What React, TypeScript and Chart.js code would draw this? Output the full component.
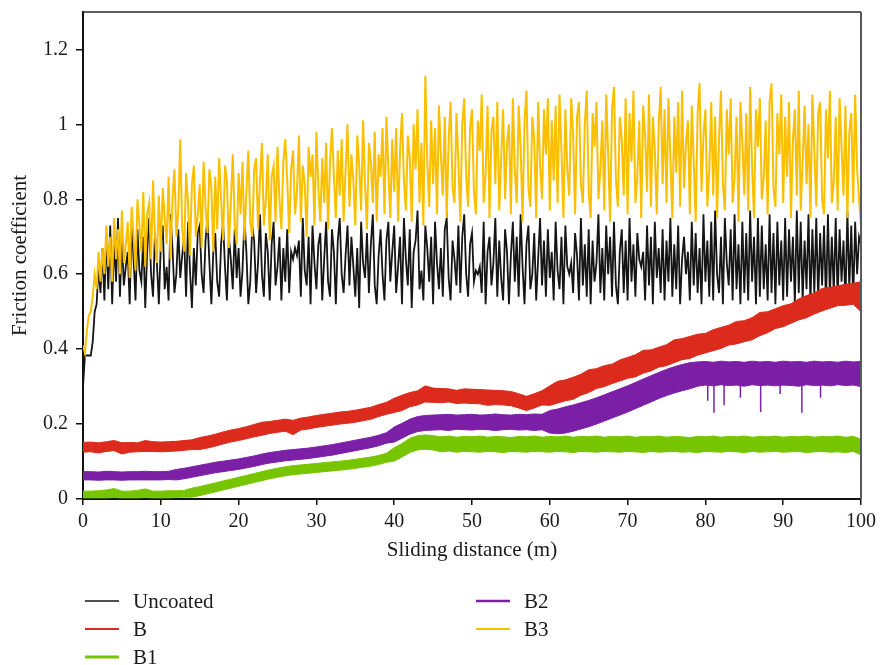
import React, { useEffect, useRef } from "react";
import { Chart, registerables } from "chart.js";

Chart.register(...registerables);

// ---------- data ----------
const distanceStep = 0.25; // m between samples of the Uncoated / B3 traces

const uncoated = [
  0.30,0.383,0.383,0.383,0.383,0.42,0.50,0.52,0.62,0.55,0.67,0.53,0.71,0.56,0.73,0.52,0.69,0.58,0.75,0.54,
  0.70,0.57,0.62,0.66,0.52,0.74,0.64,0.53,0.72,0.61,0.58,0.70,0.51,0.66,0.75,0.60,0.54,0.71,0.63,0.52,
  0.68,0.73,0.56,0.62,0.53,0.76,0.67,0.55,0.60,0.72,0.59,0.65,0.70,0.54,0.74,0.61,0.51,0.67,0.57,0.71,
  0.73,0.60,0.55,0.69,0.75,0.63,0.52,0.66,0.71,0.58,0.54,0.68,0.74,0.62,0.53,0.70,0.64,0.56,0.72,0.59,
  0.67,0.54,0.61,0.75,0.66,0.52,0.58,0.73,0.69,0.55,0.63,0.76,0.60,0.54,0.71,0.66,0.53,0.68,0.74,0.57,
  0.62,0.70,0.53,0.67,0.58,0.72,0.55,0.66,0.64,0.67,0.65,0.69,0.54,0.75,0.61,0.57,0.70,0.52,0.73,0.63,
  0.56,0.68,0.71,0.53,0.64,0.74,0.58,0.54,0.72,0.66,0.52,0.69,0.75,0.60,0.55,0.65,0.73,0.57,0.70,0.62,
  0.54,0.67,0.51,0.74,0.63,0.59,0.71,0.55,0.68,0.76,0.57,0.52,0.65,0.72,0.60,0.53,0.69,0.74,0.58,0.66,
  0.73,0.55,0.62,0.70,0.52,0.75,0.64,0.57,0.72,0.51,0.66,0.69,0.77,0.56,0.61,0.53,0.73,0.67,0.58,0.70,
  0.52,0.74,0.63,0.56,0.67,0.54,0.72,0.75,0.59,0.53,0.69,0.64,0.57,0.73,0.55,0.70,0.76,0.60,0.54,0.68,
  0.71,0.58,0.61,0.60,0.62,0.55,0.74,0.52,0.66,0.70,0.57,0.63,0.75,0.54,0.69,0.59,0.53,0.72,0.66,0.52,
  0.65,0.74,0.58,0.70,0.54,0.76,0.62,0.52,0.68,0.73,0.56,0.60,0.71,0.53,0.64,0.75,0.57,0.69,0.54,0.72,
  0.59,0.66,0.53,0.74,0.61,0.56,0.70,0.52,0.73,0.62,0.60,0.63,0.55,0.71,0.65,0.53,0.75,0.57,0.68,0.54,
  0.72,0.52,0.69,0.58,0.63,0.76,0.55,0.67,0.53,0.73,0.60,0.70,0.54,0.74,0.57,0.52,0.66,0.72,0.55,0.69,
  0.53,0.75,0.58,0.68,0.54,0.71,0.64,0.62,0.66,0.53,0.73,0.57,0.70,0.52,0.74,0.59,0.67,0.55,0.72,0.53,
  0.69,0.58,0.75,0.54,0.68,0.56,0.73,0.52,0.64,0.70,0.60,0.66,0.53,0.74,0.57,0.71,0.55,0.67,0.52,0.76,
  0.58,0.69,0.54,0.74,0.53,0.77,0.60,0.55,0.70,0.52,0.75,0.63,0.57,0.72,0.53,0.76,0.56,0.68,0.52,0.74,
  0.55,0.71,0.53,0.77,0.58,0.70,0.52,0.75,0.54,0.73,0.56,0.68,0.53,0.76,0.55,0.71,0.52,0.74,0.57,0.69,
  0.53,0.75,0.54,0.72,0.58,0.70,0.52,0.77,0.55,0.74,0.53,0.69,0.56,0.76,0.52,0.72,0.55,0.75,0.53,0.71,
  0.57,0.73,0.52,0.76,0.54,0.70,0.55,0.75,0.53,0.72,0.58,0.69,0.52,0.77,0.56,0.73,0.53,0.74,0.60,0.70,0.68,
];

const b3 = [
  0.41,0.39,0.45,0.49,0.50,0.54,0.60,0.56,0.66,0.58,0.67,0.60,0.73,0.62,0.70,0.58,0.75,0.64,0.72,0.60,
  0.77,0.63,0.68,0.74,0.59,0.78,0.70,0.61,0.80,0.73,0.66,0.82,0.62,0.76,0.79,0.64,0.85,0.70,0.63,0.81,
  0.66,0.83,0.75,0.68,0.86,0.64,0.80,0.88,0.70,0.77,0.96,0.72,0.66,0.87,0.79,0.65,0.84,0.89,0.70,0.76,
  0.84,0.67,0.90,0.78,0.71,0.88,0.83,0.66,0.86,0.72,0.91,0.80,0.69,0.89,0.85,0.67,0.79,0.92,0.73,0.68,
  0.87,0.76,0.90,0.69,0.82,0.93,0.74,0.70,0.88,0.91,0.72,0.85,0.95,0.73,0.80,0.92,0.69,0.86,0.89,0.74,
  0.94,0.80,0.72,0.90,0.96,0.85,0.71,0.88,0.93,0.76,0.82,0.97,0.74,0.89,0.84,0.70,0.94,0.86,0.92,0.73,
  0.98,0.83,0.74,0.91,0.79,0.95,0.72,0.90,0.99,0.86,0.75,0.93,0.81,0.96,0.74,0.88,1.00,0.78,0.92,0.85,
  0.73,0.97,0.89,0.77,1.01,0.84,0.72,0.95,0.90,0.79,0.98,0.74,0.92,0.86,0.99,0.76,1.02,0.88,0.75,0.96,
  0.82,0.99,0.74,0.93,1.03,0.85,0.77,0.97,0.91,0.74,1.00,0.88,1.04,0.79,0.95,0.73,1.13,0.90,0.78,1.01,
  0.84,0.99,0.76,1.05,0.92,0.81,1.02,0.75,0.96,1.06,0.83,0.79,1.03,0.90,0.74,1.00,1.07,0.86,0.78,0.99,
  1.04,0.82,0.76,1.01,0.93,1.08,0.79,0.87,1.05,0.75,0.98,1.02,0.84,1.06,0.77,0.91,1.04,0.80,0.95,1.00,
  0.76,1.07,0.88,0.79,1.05,0.94,0.74,1.01,1.09,0.83,0.78,1.02,0.96,0.75,1.06,0.89,0.80,1.04,0.92,1.07,
  0.77,1.01,0.85,1.05,0.79,1.08,0.93,0.75,1.04,0.88,0.81,1.07,0.97,0.76,1.02,1.06,0.84,0.79,1.00,1.09,
  0.82,0.75,1.03,0.94,1.06,0.80,0.88,1.01,0.77,1.08,0.92,0.74,1.04,1.10,0.85,0.78,1.02,0.96,0.81,1.07,
  0.76,1.03,0.90,1.09,0.79,0.86,1.01,0.75,1.05,0.97,0.82,1.08,0.78,1.02,0.93,0.76,1.00,1.10,0.84,1.04,
  0.79,1.07,0.91,0.75,1.02,0.87,1.06,0.78,1.09,0.83,0.95,1.01,0.76,1.05,0.90,0.74,1.03,1.11,0.82,0.97,
  1.04,0.78,0.88,1.06,0.81,1.02,0.75,0.96,1.09,0.84,0.77,1.04,0.92,1.07,0.79,0.86,1.02,0.74,1.06,0.95,
  0.81,1.03,0.77,1.10,0.89,0.75,1.04,0.94,1.07,0.80,0.86,1.01,0.76,1.06,1.11,0.83,0.78,1.03,0.92,1.08,
  0.79,1.02,0.86,1.06,0.75,0.96,1.04,0.81,1.09,0.77,0.90,1.05,0.84,1.00,0.75,1.08,0.93,0.78,1.03,1.06,
  0.80,0.76,1.04,0.91,1.09,0.79,0.85,1.02,0.77,1.07,0.94,0.81,1.05,0.75,0.98,1.03,0.79,1.08,0.88,0.80,0.73,
];

// band series (noisy traces drawn as their lower / upper envelope), sampled every 1 m
const bandDistance = [
  0,1,2,3,4,5,6,7,8,9,10,11,12,13,14,15,16,17,18,19,20,21,22,23,24,25,26,27,28,29,
  30,31,32,33,34,35,36,37,38,39,40,41,42,43,44,45,46,47,48,49,50,51,52,53,54,55,56,57,58,59,
  60,61,62,63,64,65,66,67,68,69,70,71,72,73,74,75,76,77,78,79,80,81,82,83,84,85,86,87,88,89,
  90,91,92,93,94,95,96,97,98,99,100,
];

const bLow = [
  .125,.126,.123,.127,.129,.120,.125,.126,.127,.127,
  .126,.127,.128,.130,.132,.132,.136,.141,.147,.152,
  .156,.161,.166,.170,.175,.178,.181,.172,.184,.187,
  .191,.194,.197,.200,.202,.205,.209,.213,.220,.226,
  .231,.236,.246,.251,.259,.258,.257,.259,.255,.256,
  .255,.254,.250,.252,.251,.249,.243,.236,.243,.251,
  .250,.256,.262,.266,.277,.284,.295,.300,.308,.315,
  .322,.326,.336,.342,.352,.356,.364,.372,.375,.384,
  .390,.396,.402,.411,.414,.420,.425,.436,.444,.455,
  .460,.469,.478,.484,.494,.502,.509,.516,.517,.520,.500,
];
const bHigh = [
  .151,.152,.150,.153,.156,.150,.151,.150,.156,.153,
  .152,.153,.154,.156,.158,.164,.168,.173,.179,.184,
  .188,.193,.199,.205,.207,.210,.213,.210,.216,.219,
  .223,.226,.229,.232,.234,.237,.241,.245,.252,.258,
  .269,.277,.284,.289,.302,.296,.295,.294,.290,.294,
  .293,.292,.291,.290,.289,.287,.281,.274,.281,.289,
  .302,.314,.318,.325,.333,.345,.348,.356,.360,.371,
  .378,.385,.397,.398,.405,.412,.425,.428,.434,.440,
  .442,.452,.458,.464,.474,.476,.484,.498,.500,.508,
  .516,.521,.534,.543,.550,.562,.565,.569,.573,.576,.580,
];

const b1Low = [
  .003,.003,.003,.003,.004,.003,.003,.003,.004,.003,
  .003,.003,.004,.005,.005,.009,.014,.019,.024,.029,
  .034,.039,.044,.049,.054,.058,.062,.065,.067,.069,
  .071,.073,.075,.077,.079,.082,.085,.088,.092,.098,
  .101,.112,.124,.131,.133,.131,.126,.128,.125,.127,
  .126,.125,.127,.126,.124,.127,.126,.125,.127,.126,
  .125,.127,.126,.124,.127,.126,.125,.127,.126,.125,
  .127,.126,.124,.127,.125,.126,.127,.125,.126,.124,
  .127,.126,.125,.127,.126,.124,.127,.125,.126,.127,
  .125,.126,.127,.124,.126,.127,.125,.126,.124,.127,.118,
];
const b1High = [
  .021,.021,.022,.024,.028,.021,.021,.023,.027,.021,
  .021,.022,.022,.023,.029,.033,.038,.043,.048,.053,
  .058,.063,.068,.073,.078,.082,.086,.089,.091,.093,
  .095,.097,.099,.101,.103,.106,.109,.112,.116,.122,
  .137,.148,.162,.169,.171,.169,.166,.168,.165,.167,
  .166,.168,.165,.167,.166,.164,.167,.166,.168,.165,
  .167,.166,.168,.165,.167,.166,.168,.165,.167,.166,
  .168,.165,.167,.166,.168,.165,.167,.166,.164,.167,
  .166,.168,.165,.167,.166,.168,.165,.167,.166,.168,
  .165,.167,.166,.168,.165,.167,.166,.168,.165,.167,.160,
];

const b2Low = [
  .051,.051,.050,.051,.051,.050,.051,.051,.051,.051,
  .051,.052,.051,.054,.058,.062,.066,.070,.073,.076,
  .079,.083,.087,.092,.096,.099,.102,.104,.106,.108,
  .111,.114,.117,.121,.125,.129,.133,.137,.142,.149,
  .152,.162,.173,.180,.183,.184,.185,.183,.186,.185,
  .184,.186,.185,.183,.185,.186,.184,.185,.183,.185,
  .176,.174,.176,.181,.187,.193,.200,.208,.216,.224,
  .232,.241,.250,.259,.268,.276,.283,.289,.294,.301,
  .304,.302,.305,.303,.304,.301,.305,.303,.304,.302,
  .304,.303,.301,.305,.303,.304,.302,.305,.303,.304,.300,
];
const b2High = [
  .073,.073,.072,.074,.073,.072,.073,.073,.074,.073,
  .073,.074,.079,.082,.086,.090,.094,.098,.101,.104,
  .107,.111,.115,.120,.124,.127,.130,.132,.134,.136,
  .139,.142,.145,.149,.153,.157,.161,.165,.170,.177,
  .192,.202,.213,.220,.223,.224,.225,.226,.224,.225,
  .226,.224,.225,.227,.225,.224,.226,.225,.227,.226,
  .236,.240,.246,.251,.257,.263,.270,.278,.286,.294,
  .302,.311,.320,.329,.338,.346,.353,.359,.364,.366,
  .367,.365,.368,.366,.367,.365,.368,.366,.367,.365,
  .368,.366,.367,.365,.368,.366,.367,.365,.368,.366,.367,
];

// isolated downward spikes of the B2 trace
const b2DipDistance = [80.3, 81.1, 82.4, 84.5, 87.1, 89.6, 92.4, 94.8];
const b2DipTop = [0.31, 0.31, 0.31, 0.31, 0.31, 0.31, 0.31, 0.31];
const b2DipBottom = [0.262, 0.23, 0.25, 0.27, 0.232, 0.28, 0.23, 0.27];

const xTicks = [0, 10, 20, 30, 40, 50, 60, 70, 80, 90, 100];
const yTicks = [0, 0.2, 0.4, 0.6, 0.8, 1, 1.2];

const seriesNames = ["Uncoated", "B", "B1", "B2", "B3"];
const seriesColors = ["#151515", "#dc2a1c", "#76c500", "#7b20a6", "#fcbf00"];

// ---------- helpers ----------
const FONT = "'Liberation Serif', 'Times New Roman', serif";

const stepped = (vals: number[]) => vals.map((y, i) => ({ x: i * distanceStep, y }));
const banded = (vals: number[]) => vals.map((y, i) => ({ x: bandDistance[i], y }));
const dips = () => {
  const out: { x: number; y: number | null }[] = [];
  b2DipDistance.forEach((x, i) => {
    out.push({ x, y: b2DipTop[i] }, { x, y: b2DipBottom[i] }, { x, y: null });
  });
  return out;
};

const frame = {
  id: "frame",
  afterDatasetsDraw(chart: any) {
    const { ctx, chartArea: a } = chart;
    ctx.save();
    ctx.strokeStyle = "#2a2a2a";
    ctx.lineWidth = 1.5;
    ctx.beginPath();
    ctx.moveTo(a.left, a.top);
    ctx.lineTo(a.right, a.top);
    ctx.stroke();
    ctx.strokeStyle = "#5a5a5a";
    ctx.lineWidth = 2;
    ctx.beginPath();
    ctx.moveTo(a.right, a.top);
    ctx.lineTo(a.right, a.bottom);
    ctx.stroke();
    ctx.restore();
  },
};

const legendLayout = [
  { col: 0, row: 0, width: 1.5 },
  { col: 0, row: 1, width: 2 },
  { col: 0, row: 2, width: 3 },
  { col: 1, row: 0, width: 2.5 },
  { col: 1, row: 1, width: 2 },
];

const customLegend = {
  id: "customLegend",
  afterDraw(chart: any) {
    const { ctx } = chart;
    ctx.save();
    ctx.font = `21px ${FONT}`;
    ctx.textBaseline = "middle";
    ctx.textAlign = "left";
    seriesNames.forEach((name, i) => {
      const l = legendLayout[i];
      const x0 = l.col === 0 ? 85 : 476;
      const y = 601 + l.row * 28;
      ctx.strokeStyle = seriesColors[i];
      ctx.lineWidth = l.width;
      ctx.beginPath();
      ctx.moveTo(x0, y);
      ctx.lineTo(x0 + 34, y);
      ctx.stroke();
      ctx.fillStyle = "#1a1a1a";
      ctx.fillText(name, x0 + 48, y + 1);
    });
    ctx.restore();
  },
};

export default function App() {
  const ref = useRef<HTMLCanvasElement | null>(null);

  useEffect(() => {
    document.body.style.margin = "0";
    if (!ref.current) return;
    const tickFont = { family: FONT, size: 20 };
    const titleFont = { family: FONT, size: 21 };
    const chart = new Chart(ref.current, {
      type: "line",
      data: {
        datasets: [
          {
            label: "Uncoated",
            data: stepped(uncoated),
            borderColor: seriesColors[0],
            borderWidth: 1.8,
            order: 10,
          },
          {
            label: "B low",
            data: banded(bLow),
            borderColor: seriesColors[1],
            borderWidth: 1,
            order: 8,
          },
          {
            label: "B",
            data: banded(bHigh),
            borderColor: seriesColors[1],
            backgroundColor: seriesColors[1],
            borderWidth: 1,
            fill: "-1",
            order: 8,
          },
          {
            label: "B1 low",
            data: banded(b1Low),
            borderColor: seriesColors[2],
            borderWidth: 1,
            order: 6,
          },
          {
            label: "B1",
            data: banded(b1High),
            borderColor: seriesColors[2],
            backgroundColor: seriesColors[2],
            borderWidth: 1,
            fill: "-1",
            order: 6,
          },
          {
            label: "B2 low",
            data: banded(b2Low),
            borderColor: seriesColors[3],
            borderWidth: 1,
            order: 4,
          },
          {
            label: "B2",
            data: banded(b2High),
            borderColor: seriesColors[3],
            backgroundColor: seriesColors[3],
            borderWidth: 1,
            fill: "-1",
            order: 4,
          },
          {
            label: "B2 dips",
            data: dips() as any,
            borderColor: seriesColors[3],
            borderWidth: 1.5,
            spanGaps: false,
            order: 4,
          },
          {
            label: "B3",
            data: stepped(b3),
            borderColor: seriesColors[4],
            borderWidth: 2,
            order: 0,
          },
        ],
      },
      options: {
        animation: false,
        responsive: false,
        maintainAspectRatio: false,
        elements: {
          point: { radius: 0, hoverRadius: 0 },
          line: { tension: 0, fill: false },
        },
        layout: { padding: { top: 12, right: 19, bottom: 102, left: 0 } },
        plugins: {
          legend: { display: false },
          tooltip: { enabled: false },
        },
        scales: {
          x: {
            type: "linear",
            min: 0,
            max: 100,
            afterBuildTicks: (s: any) => {
              s.ticks = xTicks.map((v) => ({ value: v }));
            },
            afterFit: (s: any) => {
              s.height = 64;
              s.paddingLeft = 0;
              s.paddingRight = 0;
            },
            ticks: {
              font: tickFont,
              color: "#1a1a1a",
              padding: 5,
              maxRotation: 0,
              autoSkip: false,
              callback: (v: any) => String(v),
            },
            grid: { drawOnChartArea: false, drawTicks: true, tickLength: 6, color: "#111", lineWidth: 1.5 },
            border: { display: true, color: "#111", width: 2 },
            title: {
              display: true,
              text: "Sliding distance (m)",
              font: titleFont,
              color: "#1a1a1a",
              padding: { top: 0, bottom: 0 },
            },
          },
          y: {
            type: "linear",
            min: 0,
            max: 1.3,
            afterBuildTicks: (s: any) => {
              s.ticks = yTicks.map((v) => ({ value: v }));
            },
            afterFit: (s: any) => {
              s.width = 83;
              s.paddingTop = 0;
              s.paddingBottom = 0;
            },
            ticks: { font: tickFont, color: "#1a1a1a", padding: 8, callback: (v: any) => String(v) },
            grid: { drawOnChartArea: false, drawTicks: true, tickLength: 7, color: "#111", lineWidth: 1.5 },
            border: { display: true, color: "#111", width: 2 },
            title: {
              display: true,
              text: "Friction coefficient",
              font: titleFont,
              color: "#1a1a1a",
              padding: { top: 8, bottom: 0 },
            },
          },
        },
      },
      plugins: [frame, customLegend],
    });
    return () => chart.destroy();
  }, []);

  return (
    <div style={{ width: 880, height: 665, background: "#fff" }}>
      <canvas ref={ref} width={880} height={665} style={{ display: "block", width: 880, height: 665 }} />
    </div>
  );
}
